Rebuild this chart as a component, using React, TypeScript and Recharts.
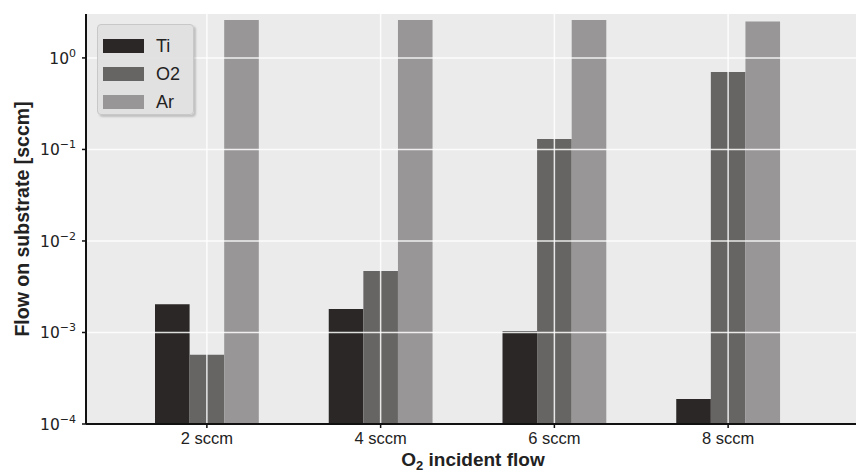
import React from 'react';
import { BarChart, Bar, XAxis, YAxis, CartesianGrid, ReferenceLine, Legend } from 'recharts';

const categories = ['2 sccm', '4 sccm', '6 sccm', '8 sccm'];
const tiValues = [2.04e-3, 1.8e-3, 1.03e-3, 1.87e-4];
const o2Values = [5.7e-4, 4.7e-3, 0.13, 0.70];
const arValues = [2.6, 2.6, 2.6, 2.5];
const yTicks = [1e-4, 1e-3, 1e-2, 1e-1, 1];
const seriesNames = ['Ti', 'O2', 'Ar'];
const seriesColors = ['#2a2726', '#676564', '#989696'];

const Y_MAX = 3.02;

const data = categories.map((c, i) => ({
  flow: c,
  Ti: tiValues[i],
  O2: o2Values[i],
  Ar: arValues[i],
}));

const FONT = '"Liberation Sans", Arial, sans-serif';
const MATH_FONT = '"DejaVu Sans", sans-serif';

const YTick = (props: any) => {
  const { x, y, payload } = props;
  const e = Math.round(Math.log10(payload.value));
  const exp = e < 0 ? '\u2212' + String(-e) : String(e);
  return (
    <text x={x} y={y} dy={6} textAnchor="end" fontFamily={MATH_FONT} fontSize={15.5} fill="#222">
      <tspan>10</tspan>
      <tspan dy={-7} fontSize={11}>{exp}</tspan>
    </text>
  );
};

const XTick = (props: any) => {
  const { x, y, payload } = props;
  return (
    <text x={x} y={y} dy={14} textAnchor="middle" fontFamily={FONT} fontSize={16.5} fill="#222">
      {payload.value}
    </text>
  );
};

const XLabel = (props: any) => {
  const vb = props.viewBox || {};
  const cx = (vb.x || 0) + (vb.width || 0) / 2;
  const y = (vb.y || 0) + 42;
  return (
    <text x={cx} y={y} textAnchor="middle" fontFamily={FONT} fontSize={19} fontWeight="bold" fill="#222">
      <tspan>O</tspan>
      <tspan dy={4} fontSize={13}>2</tspan>
      <tspan dy={-4}> incident flow</tspan>
    </text>
  );
};

const YLabel = (props: any) => {
  const vb = props.viewBox || {};
  const cy = (vb.y || 0) + (vb.height || 0) / 2;
  const x = 22;
  return (
    <text
      x={x}
      y={cy}
      textAnchor="middle"
      dominantBaseline="central"
      transform={`rotate(-90, ${x}, ${cy})`}
      fontFamily={FONT}
      fontSize={19.5}
      fontWeight="bold"
      fill="#222"
    >
      Flow on substrate [sccm]
    </text>
  );
};

const renderLegend = () => (
  <div
    style={{
      width: 97,
      height: 91,
      boxSizing: 'border-box',
      background: 'rgba(224,224,224,0.92)',
      border: '1px solid #c8c8c8',
      borderRadius: 4,
      boxShadow: '2px 2px 2px rgba(0,0,0,0.18)',
      paddingTop: 7,
      paddingLeft: 5,
    }}
  >
    {seriesNames.map((n, i) => (
      <div key={n} style={{ display: 'flex', alignItems: 'center', height: 28 }}>
        <div style={{ width: 41, height: 14, background: seriesColors[i] }} />
        <span style={{ marginLeft: 12, fontFamily: FONT, fontSize: 18, color: '#222' }}>{n}</span>
      </div>
    ))}
  </div>
);

export default function App() {
  return (
    <div style={{ position: 'absolute', left: 0, top: 0, width: 856, height: 475, overflow: 'hidden', background: '#fff' }}>
      <BarChart
        width={880}
        height={475}
        data={data}
        margin={{ top: 14, right: 20, bottom: 0, left: 0 }}
        barGap={0}
        barSize={34.6}
      >
        <CartesianGrid fill="#ebebeb" stroke="none" />
        <XAxis
          dataKey="flow"
          xAxisId="bottom"
          padding={{ left: 34, right: 45 }}
          axisLine={{ stroke: '#111', strokeWidth: 2 }}
          tickLine={{ stroke: '#111', strokeWidth: 1.5 }}
          tickSize={4}
          tick={<XTick />}
          height={51}
          label={<XLabel />}
        />
        <XAxis
          dataKey="flow"
          xAxisId="top"
          orientation="top"
          padding={{ left: 34, right: 45 }}
          axisLine={{ stroke: '#111', strokeWidth: 2 }}
          tickLine={{ stroke: '#111', strokeWidth: 1.5 }}
          tickSize={4}
          tick={false}
          height={0}
        />
        <YAxis
          scale="log"
          domain={[1e-4, Y_MAX]}
          ticks={yTicks}
          allowDataOverflow
          width={86}
          axisLine={{ stroke: '#111', strokeWidth: 2 }}
          tickLine={{ stroke: '#111', strokeWidth: 1.5 }}
          tickSize={4}
          tickMargin={6}
          tick={<YTick />}
          label={<YLabel />}
        />
        {seriesNames.map((n, i) => (
          <Bar key={n} dataKey={n} xAxisId="bottom" fill={seriesColors[i]} isAnimationActive={false} />
        ))}
        {yTicks.slice(1).map((t) => (
          <ReferenceLine key={'y' + t} y={t} xAxisId="bottom" stroke="#ffffff" strokeOpacity={0.85} strokeWidth={1.5} />
        ))}
        {categories.map((c) => (
          <ReferenceLine key={'x' + c} x={c} xAxisId="bottom" stroke="#ffffff" strokeOpacity={0.85} strokeWidth={1.5} />
        ))}
        <Legend
          layout="vertical"
          align="center"
          verticalAlign="middle"
          content={renderLegend}
          wrapperStyle={{ position: 'absolute', left: 97, top: 24, width: 97, height: 91 }}
        />
      </BarChart>
    </div>
  );
}
